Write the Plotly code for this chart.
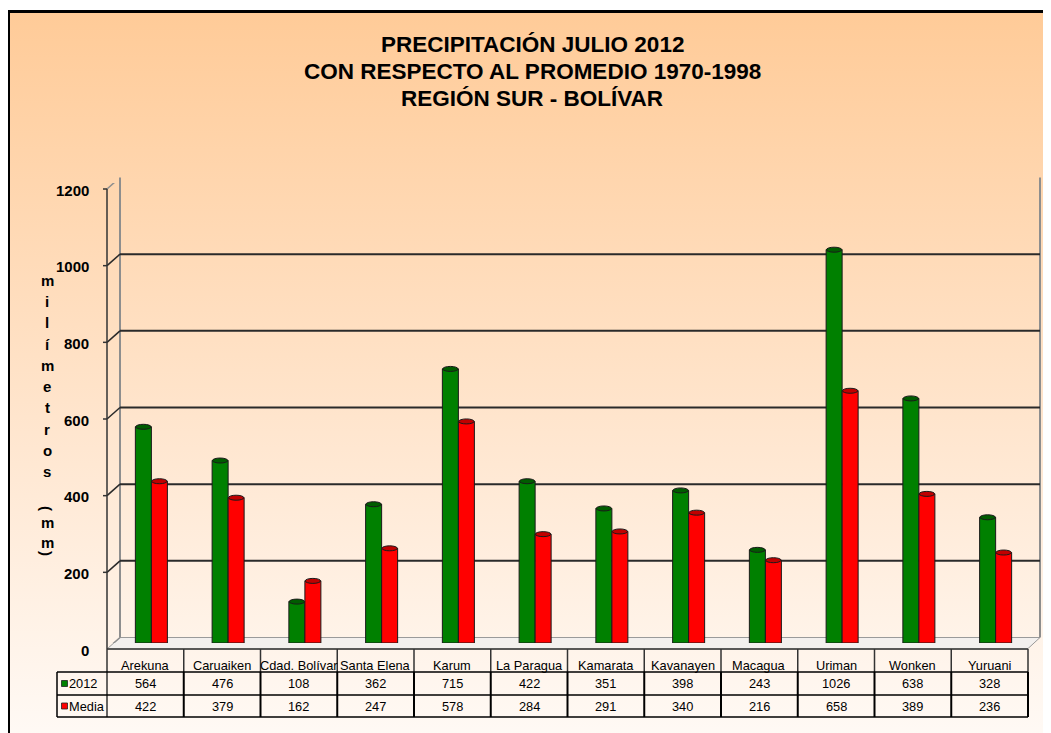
import base64
import plotly.graph_objects as go

# ---------------- data ----------------
stations = ["Arekuna", "Caruaiken", "Cdad. Bolívar", "Santa Elena", "Karum", "La Paragua",
            "Kamarata", "Kavanayen", "Macagua", "Uriman", "Wonken", "Yuruani"]
precip_2012 = [564, 476, 108, 362, 715, 422, 351, 398, 243, 1026, 638, 328]
precip_media = [422, 379, 162, 247, 578, 284, 291, 340, 216, 658, 389, 236]
series_names = ["2012", "Media"]
y_ticks = [0, 200, 400, 600, 800, 1000, 1200]
title_lines = ["PRECIPITACIÓN JULIO 2012",
               "CON RESPECTO AL PROMEDIO 1970-1998",
               "REGIÓN SUR - BOLÍVAR"]
y_title = "milímetros (mm)"

# ---------------- layout helpers (page pixel coords -> paper) ----------------
OFF = 8                      # default body margin of the page
W, H = 1043, 725             # figure size (fits the window after body margin)
L, R, T, B = 105, 17, 175, 90
PW = W - L - R
PH = H - T - B
FONT = "Liberation Sans, Arial, sans-serif"
GREEN, RED = "#008000", "#FF0000"
GREEN_CAP, RED_CAP = "#005c00", "#c00000"
BARGAP = 0.583
BW = (1 - BARGAP) / 2          # width of one bar in category units
FDX, FDY = -6, -6              # front plane pixel offset (x right, y up)
BDY = 5.5                      # back plane pixel offset (y up)


def px(x):
    return (x - OFF - L) / PW


def py(y):
    return (H - B - (y - OFF)) / PH


def ann(**kw):
    base = dict(showarrow=False, xanchor="center", yanchor="middle")
    base.update(kw)
    return base


fig = go.Figure()
fig.add_trace(go.Bar(x=stations, y=precip_2012, name=series_names[0],
                     marker=dict(color=GREEN, line=dict(color="#1a1a1a", width=1))))
fig.add_trace(go.Bar(x=stations, y=precip_media, name=series_names[1],
                     marker=dict(color=RED, line=dict(color="#1a1a1a", width=1))))

shapes = []
annotations = []

# background gradient frame
svg = ("<svg xmlns='http://www.w3.org/2000/svg' width='100' height='100' viewBox='0 0 100 100' "
       "preserveAspectRatio='none'><defs><linearGradient id='g' x1='0' y1='0' x2='0' y2='1'>"
       "<stop offset='0' stop-color='#FFCB98'/><stop offset='0.55' stop-color='#FFE6CF'/>"
       "<stop offset='1' stop-color='#FFFCFA'/></linearGradient></defs>"
       "<rect width='100' height='100' fill='url(#g)'/></svg>")
src = "data:image/svg+xml;base64," + base64.b64encode(svg.encode()).decode()
images = [dict(source=src, xref="paper", yref="paper", x=px(8.5), y=py(11.5),
               sizex=(W + 40) / PW, sizey=(H + 40) / PH,
               xanchor="left", yanchor="top", sizing="stretch", layer="below")]
shapes.append(dict(type="rect", xref="paper", yref="paper", x0=px(8.5), x1=px(W + 60),
                   y0=py(11.5), y1=py(H + 60), line=dict(color="black", width=3),
                   fillcolor="rgba(0,0,0,0)", layer="below"))

# floor
shapes.append(dict(type="path", xref="paper", yref="paper", layer="below",
                   path=f"M {px(107)},{py(649)} L {px(120)},{py(637.5)} L {px(1040)},{py(637.5)} "
                        f"L {px(1027.5)},{py(649)} Z",
                   fillcolor="#F3F0EE", line=dict(color="#9a9a9a", width=1)))
# back wall verticals
for xb in (120, 1040):
    shapes.append(dict(type="line", xref="paper", yref="paper", layer="below",
                       x0=px(xb), x1=px(xb), y0=py(637.5), y1=py(177.5),
                       line=dict(color="#8e8e8e", width=2)))
# gridlines on back wall + diagonals on side wall + front ticks + tick labels
for v in y_ticks:
    top = v == y_ticks[-1]
    col = "#8e8e8e" if (top or v == 0) else "#2a2a2a"
    if v != 0:
        shapes.append(dict(type="line", xref="paper", yref="y", layer="below",
                           x0=px(120), x1=px(1040), ysizemode="pixel", yanchor=v,
                           y0=BDY, y1=BDY, line=dict(color=col, width=2)))
    shapes.append(dict(type="line", xref="paper", yref="y", layer="below",
                       x0=px(107), x1=px(120), ysizemode="pixel", yanchor=v,
                       y0=FDY, y1=BDY, line=dict(color=col, width=1.5)))
    shapes.append(dict(type="line", xref="paper", yref="y", layer="below",
                       x0=px(103), x1=px(107), ysizemode="pixel", yanchor=v,
                       y0=FDY, y1=FDY, line=dict(color="#333", width=1.5)))
    annotations.append(ann(text=f"<b>{v}</b>", xref="paper", yref="y", x=px(91), y=v,
                           yshift=FDY - 1, xanchor="right",
                           font=dict(family=FONT, size=15, color="black")))
# front axis line
shapes.append(dict(type="line", xref="paper", yref="paper", x0=px(107), x1=px(107),
                   y0=py(717), y1=py(189), line=dict(color="#333", width=1.5)))

# cylinder caps
for i in range(len(stations)):
    for vals, off, col in ((precip_2012, -BW, GREEN_CAP), (precip_media, 0, RED_CAP)):
        shapes.append(dict(type="circle", xref="x", yref="y", x0=i + off + 0.004,
                           x1=i + off + BW - 0.004, ysizemode="pixel", yanchor=vals[i],
                           y0=-2.5, y1=2.5, fillcolor=col, line=dict(color="#1a1a1a", width=1)))

# ---------------- data table ----------------
n = len(stations)
for k in range(n + 1):
    shapes.append(dict(type="line", xref="x", yref="paper", xsizemode="pixel", xanchor=k - 0.5,
                       x0=FDX, x1=FDX, y0=py(649), y1=py(672), line=dict(color="#333", width=1.5)))
    shapes.append(dict(type="line", xref="x", yref="paper", xsizemode="pixel", xanchor=k - 0.5,
                       x0=FDX, x1=FDX, y0=py(672), y1=py(717), line=dict(color="black", width=2)))
shapes.append(dict(type="line", xref="paper", yref="paper", x0=px(57), x1=px(57),
                   y0=py(672), y1=py(717), line=dict(color="black", width=1.5)))
shapes.append(dict(type="line", xref="paper", yref="paper", x0=px(107), x1=px(1028),
                   y0=py(649), y1=py(649), line=dict(color="#333", width=1.5)))
for yy in (672, 695, 717):
    shapes.append(dict(type="line", xref="paper", yref="paper", x0=px(57), x1=px(1028),
                       y0=py(yy), y1=py(yy), line=dict(color="black", width=1.5)))

row_y = {"head": 665, series_names[0]: 683.5, series_names[1]: 706}
cell_font = dict(family=FONT, size=12.8, color="black")
for i, s in enumerate(stations):
    annotations.append(ann(text=s, xref="x", yref="paper", x=i, xshift=FDX,
                           y=py(row_y["head"]), font=cell_font))
    annotations.append(ann(text=str(precip_2012[i]), xref="x", yref="paper", x=i, xshift=FDX,
                           y=py(row_y[series_names[0]]), font=cell_font))
    annotations.append(ann(text=str(precip_media[i]), xref="x", yref="paper", x=i, xshift=FDX,
                           y=py(row_y[series_names[1]]), font=cell_font))
for name, col in zip(series_names, (GREEN, RED)):
    yc = row_y[name]
    shapes.append(dict(type="rect", xref="paper", yref="paper", x0=px(61.5), x1=px(67.5),
                       y0=py(yc - 3), y1=py(yc + 3), fillcolor=col,
                       line=dict(color="#222", width=0.8)))
    annotations.append(ann(text=name, xref="paper", yref="paper", x=px(67), y=py(yc),
                           xanchor="left", font=cell_font))

# ---------------- titles ----------------
for line, yc in zip(title_lines, (45, 71.5, 98)):
    annotations.append(ann(text=f"<b>{line}</b>", xref="paper", yref="paper", x=px(532),
                           y=py(yc), font=dict(family=FONT, size=22.5, color="black")))

letter_y = [280, 301, 322.7, 344, 365, 386.7, 407.3, 429, 450, 471.7, 508, 522.3, 542.7, 553]
chars = [c for c in y_title if c != " "]
for c, yc in zip(chars, letter_y):
    annotations.append(ann(text=f"<b>{c}</b>", xref="paper", yref="paper", x=px(47), y=py(yc),
                           textangle=90 if c in "()" else 0,
                           font=dict(family=FONT, size=15, color="black")))

fig.update_layout(
    width=W, height=H, autosize=False,
    margin=dict(l=L, r=R, t=T, b=B, pad=0),
    paper_bgcolor="white", plot_bgcolor="rgba(0,0,0,0)",
    barmode="group", bargap=BARGAP, bargroupgap=0,
    showlegend=False,
    xaxis=dict(showticklabels=False, showgrid=False, zeroline=False, showline=False,
               ticks="", range=[-0.5, n - 0.5]),
    yaxis=dict(range=[0, 1200], showticklabels=False, showgrid=False, zeroline=False,
               showline=False, ticks=""),
    shapes=shapes, annotations=annotations, images=images,
)

fig.write_html("out.html")
